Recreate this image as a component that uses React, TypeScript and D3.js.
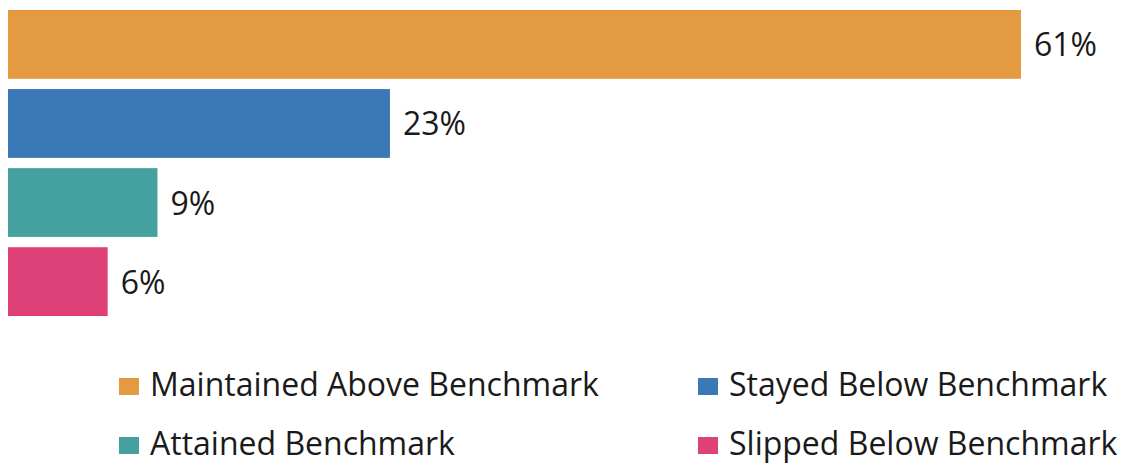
import React from "react";
import * as d3 from "d3";

// chart data
const categories = [
  "Maintained Above Benchmark",
  "Stayed Below Benchmark",
  "Attained Benchmark",
  "Slipped Below Benchmark",
];
const values = [61, 23, 9, 6];
const colors = ["#E39A41", "#3A78B7", "#45A0A0", "#DD4178"];

const WIDTH = 1130;
const HEIGHT = 463;
const FONT = "'Open Sans', sans-serif";

const App: React.FC = () => {
  const x = d3.scaleLinear().domain([0, 61]).range([8, 1021]);
  const y = d3
    .scaleBand<string>()
    .domain(categories)
    .range([10, 316])
    .paddingInner(0.13)
    .paddingOuter(0);

  // legend laid out in 2 columns x 2 rows (baselines)
  const legendCol = [119, 698];
  const legendRow = d3.scalePoint<number>().domain([0, 1]).range([396, 455]);

  return (
    <svg
      width={WIDTH}
      height={HEIGHT}
      style={{ position: "absolute", left: 0, top: 0, fontFamily: FONT }}
    >
      <rect width={WIDTH} height={HEIGHT} fill="#fff" />
      {categories.map((c, i) => {
        const y0 = y(c)!;
        const bw = y.bandwidth();
        return (
          <g key={c}>
            <rect x={x(0)} y={y0} width={x(values[i]) - x(0)} height={bw} fill={colors[i]} />
            <text
              x={x(values[i]) + 13}
              y={y0 + bw / 2 + 12}
              fontSize={32}
              fill="#1a1a1a"
            >
              {values[i]}%
            </text>
          </g>
        );
      })}
      {categories.map((c, i) => {
        const col = i % 2;
        const row = Math.floor(i / 2);
        const base = legendRow(row)!;
        return (
          <g key={"lg" + c}>
            <rect x={legendCol[col]} y={base - 18} width={20} height={17} fill={colors[i]} />
            <text x={legendCol[col] + 31} y={base} fontSize={32} fill="#1a1a1a">
              {c}
            </text>
          </g>
        );
      })}
    </svg>
  );
};

export default App;
